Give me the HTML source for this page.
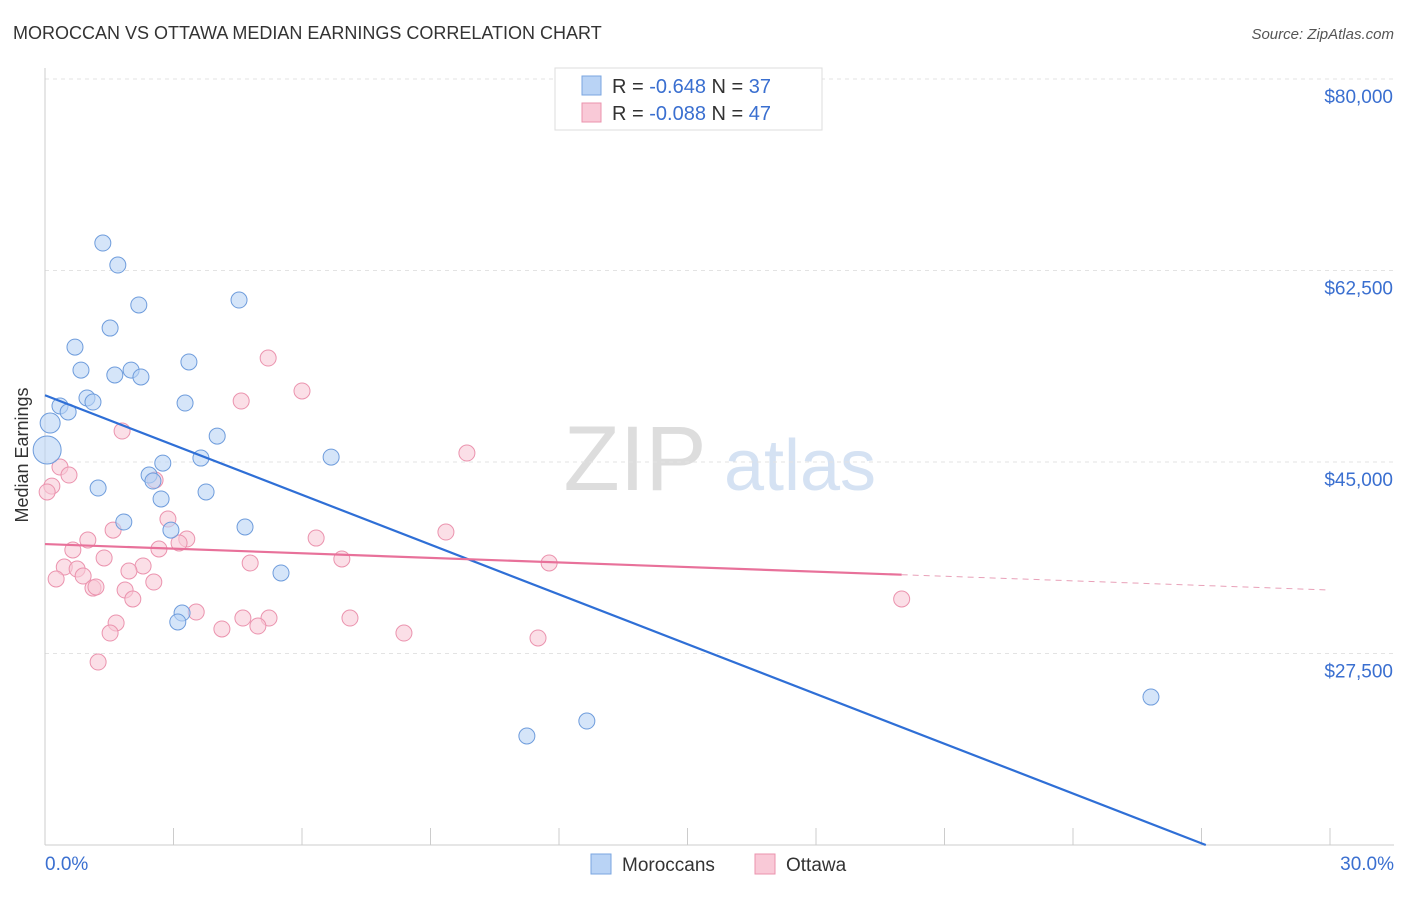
<!DOCTYPE html>
<html><head><meta charset="utf-8"><style>
body{margin:0;background:#fff;font-family:"Liberation Sans",sans-serif;}
svg text{font-family:"Liberation Sans",sans-serif;}
</style></head><body>
<svg id="chart" width="1406" height="892" xmlns="http://www.w3.org/2000/svg">
<text x="13" y="39" font-size="18" fill="#333">MOROCCAN VS OTTAWA MEDIAN EARNINGS CORRELATION CHART</text>
<text x="1394" y="39" font-size="15" fill="#555" font-style="italic" text-anchor="end">Source: ZipAtlas.com</text>
<text x="28" y="455" font-size="18" fill="#333" text-anchor="middle" transform="rotate(-90 28 455)">Median Earnings</text>
<g><text x="635" y="490" font-size="92" fill="#ddd" font-family="Liberation Serif" text-anchor="middle">ZIP</text><text x="800" y="490" font-size="72" fill="#d5e2f3" text-anchor="middle">atlas</text></g>
<g id="grid"></g><g id="axes"></g><g id="marks"></g>
<g>
<rect x="555" y="68" width="267" height="62" fill="#fff" stroke="#ddd"/>
<rect x="582" y="76" width="19" height="19" fill="#b9d3f5" stroke="#7aa6e0"/>
<rect x="582" y="103" width="19" height="19" fill="#f9c9d7" stroke="#eb93ae"/>
<text x="612" y="93" font-size="20" fill="#333">R = <tspan fill="#3a6fd0">-0.648</tspan>   N = <tspan fill="#3a6fd0">37</tspan></text>
<text x="612" y="120" font-size="20" fill="#333">R = <tspan fill="#3a6fd0">-0.088</tspan>   N = <tspan fill="#3a6fd0">47</tspan></text>
</g>
<g>
<rect x="591" y="854" width="20" height="20" fill="#b9d3f5" stroke="#7aa6e0"/>
<text x="622" y="871" font-size="19" fill="#333">Moroccans</text>
<rect x="755" y="854" width="20" height="20" fill="#f9c9d7" stroke="#eb93ae"/>
<text x="786" y="871" font-size="19" fill="#333">Ottawa</text>
</g>
</svg>
<script>
const yTicks=[80000,62500,45000,27500];
const yTickLabels=["$80,000","$62,500","$45,000","$27,500"];
const xTickLabels=["0.0%","30.0%"];
const blueX=[1.35,1.70,2.19,4.53,1.52,0.70,3.36,0.84,1.63,2.01,2.24,0.98,1.12,3.27,0.35,0.54,0.12,0.05,4.02,3.64,6.68,2.75,2.43,2.52,1.24,3.76,2.71,1.84,4.67,2.94,5.51,3.20,3.10,12.65,11.25,25.82];
const blueY=[65010,63000,59350,59800,57240,55500,54140,53400,52950,53400,52770,50850,50480,50390,50120,49570,48560,46100,47370,45360,45450,44900,43810,43260,42620,42260,41620,39520,39060,38780,34860,31200,30380,21330,19960,23520];
const pinkX=[5.21,6.0,4.58,1.80,9.85,0.35,0.56,2.57,0.16,0.05,2.87,1.59,9.36,1.00,6.33,3.31,3.13,0.65,2.66,1.38,6.93,4.79,11.77,0.45,0.75,2.29,1.96,0.89,0.26,2.54,1.12,1.87,1.19,2.05,20.0,3.53,1.66,4.62,5.23,7.12,4.13,4.97,1.52,8.38,11.51,1.24];
const pinkY=[54500,51490,50570,47830,45820,44540,43810,43350,42800,42260,39790,38780,38600,37870,38050,37960,37600,36960,37050,36230,36140,35770,35770,35400,35220,35500,35040,34580,34310,34030,33480,33300,33580,32480,32480,31290,30290,30740,30740,30740,29740,30010,29370,29370,28920,26720];
const blueTrend=[[0,51100],[27.1,10000]];
const pinkTrend=[[0,37500],[20,34700]];
const pinkTrendExt=[[20,34700],[30,33300]];
const X=v=>45+v/30*1285, Y=v=>845-(v-10000)/17500*191.5;
const NS="http://www.w3.org/2000/svg";
function mk(p,t,a){const e=document.createElementNS(NS,t);for(const k in a)e.setAttribute(k,a[k]);document.getElementById(p).appendChild(e);return e;}
yTicks.forEach((t,i)=>{
 const l=mk('grid','line',{x1:45,x2:1394,y1:Y(t),y2:Y(t),stroke:'#e3e3e3','stroke-dasharray':'4,4'});
 
 
 const tx=mk('axes','text',{x:1393,y:Y(t)+24,'font-size':19,fill:'#3a6fd0','text-anchor':'end'});
 tx.textContent=yTickLabels[i];
 
 
});
const ax=mk('axes','line',{x1:45,x2:1394,y1:845,y2:845,stroke:'#ccc'});


const ay=mk('axes','line',{x1:45,x2:45,y1:68,y2:845,stroke:'#ccc'});


for(let i=1;i<=10;i++){const t=mk('axes','line',{x1:X(i*3),x2:X(i*3),y1:828,y2:845,stroke:'#ccc'});
 
 }
[[0,'start',45],[30,'end',1394]].forEach((d,i)=>{const t=mk('axes','text',{x:d[2],y:870,'font-size':19,fill:'#3a6fd0','text-anchor':d[1]});t.textContent=xTickLabels[i];
 
 });
function dots(xs,ys,fill,stroke,name){xs.forEach((x,i)=>{const big=(x<0.2&&ys[i]>45000&&name==='moroccan-point');
 const c=mk('marks','circle',{cx:X(x),cy:Y(ys[i]),r:big?(ys[i]<47000?14:10):8,fill:fill,'fill-opacity':0.6,stroke:stroke,'stroke-width':1});
 
 });}
dots(pinkX,pinkY,'#f9c9d7','#eb93ae','ottawa-point');
dots(blueX,blueY,'#b9d3f5','#6e9cdc','moroccan-point');
function line(p,col,name,dash){const l=mk('marks','line',{x1:X(p[0][0]),y1:Y(p[0][1]),x2:X(p[1][0]),y2:Y(p[1][1]),stroke:col,'stroke-width':dash?1:2.2});
 if(dash)l.setAttribute('stroke-dasharray','6,5');
 
 }
line(blueTrend,'#2f6fd6','moroccan-trendline');
line(pinkTrend,'#e8719a','ottawa-trendline');
line(pinkTrendExt,'#e8a0b8','ottawa-trendline-extension',true);
</script>
</body></html>
